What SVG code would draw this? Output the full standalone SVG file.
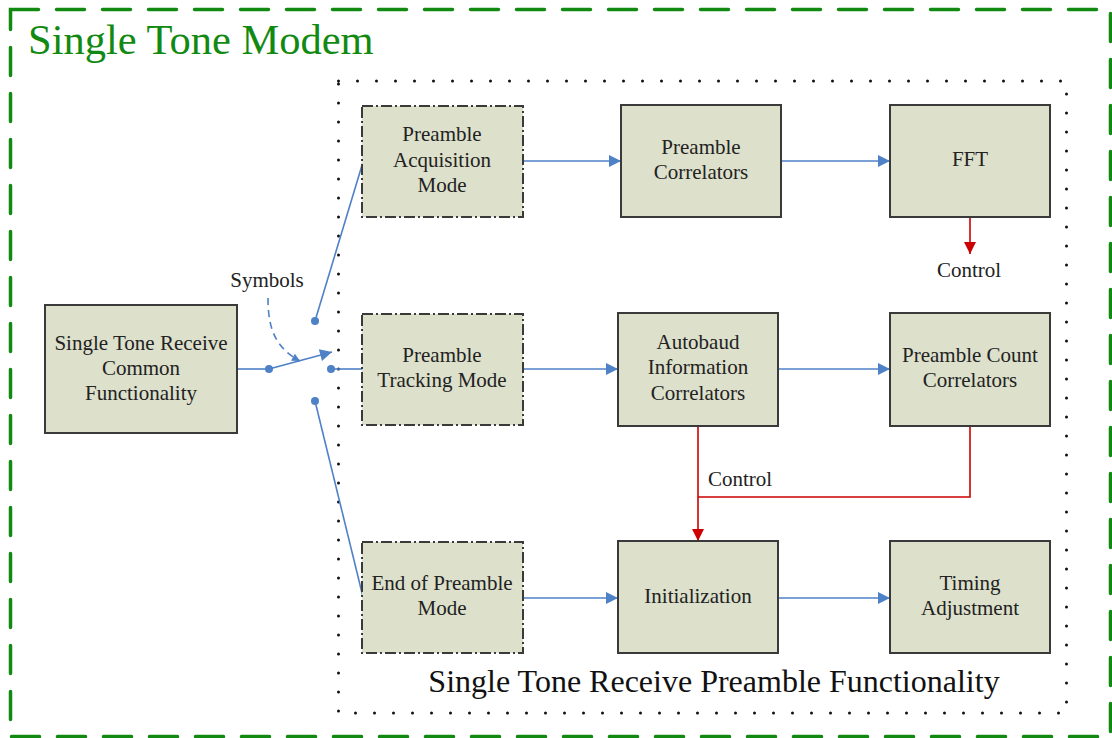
<svg xmlns="http://www.w3.org/2000/svg" width="1112" height="738" viewBox="0 0 1112 738">
  <style>
    .box { fill: #dde0cb; stroke: #3a3a3a; stroke-width: 2; }
    .mode { fill: #dde0cb; stroke: #3a3a3a; stroke-width: 2; stroke-dasharray: 11 3 2 3; }
    .lbl { font-family: "Liberation Serif", "Times New Roman", serif; font-size: 21px; fill: #222; text-anchor: middle; }
    .note { font-family: "Liberation Serif", "Times New Roman", serif; font-size: 21px; fill: #222; }
    .flow { stroke: #4f81c7; stroke-width: 1.6; fill: none; }
    .ctl { stroke: #cc0000; stroke-width: 1.6; fill: none; }
    .pin { fill: #4f81c7; }
  </style>
  <defs>
    <marker id="blueHead" viewBox="0 0 10 10" refX="10" refY="5" markerWidth="10" markerHeight="8" markerUnits="userSpaceOnUse" orient="auto">
      <path d="M0,0 L10,5 L0,10 z" fill="#4f81c7"/>
    </marker>
    <marker id="blueHeadL" viewBox="0 0 10 10" refX="10" refY="5" markerWidth="16" markerHeight="12" markerUnits="userSpaceOnUse" orient="auto">
      <path d="M0,0 L10,5 L0,10 z" fill="#4f81c7"/>
    </marker>
    <marker id="redHead" viewBox="0 0 10 10" refX="10" refY="5" markerWidth="14" markerHeight="12" markerUnits="userSpaceOnUse" orient="auto">
      <path d="M0,0 L10,5 L0,10 z" fill="#cc0000"/>
    </marker>
  </defs>

  <!-- outer modem frame -->
  <g id="modem-frame">
    <rect x="10.5" y="9.5" width="1100" height="727" fill="none" stroke="#128a12" stroke-width="3.5" stroke-dasharray="28 18" stroke-linecap="round"/>
    <text x="28" y="54" font-family="Liberation Serif, Times New Roman, serif" font-size="42.5" fill="#128a12">Single Tone Modem</text>
  </g>

  <!-- preamble functionality frame -->
  <g id="preamble-frame">
    <rect x="338.5" y="81" width="728" height="632" fill="none" stroke="#111" stroke-width="3" stroke-dasharray="0 19" stroke-linecap="round"/>
    <text x="714" y="692" font-family="Liberation Serif, Times New Roman, serif" font-size="32" fill="#111" text-anchor="middle">Single Tone Receive Preamble Functionality</text>
  </g>

  <!-- connectors -->
  <g id="connectors">
    <!-- switch -->
    <line class="flow" x1="237" y1="369" x2="269" y2="369"/>
    <line class="flow" x1="269" y1="369" x2="332" y2="352" marker-end="url(#blueHeadL)"/>
    <circle class="pin" cx="269" cy="369" r="4"/>
    <circle class="pin" cx="331" cy="369" r="4"/>
    <line class="flow" x1="331" y1="369" x2="363" y2="369"/>
    <circle class="pin" cx="315" cy="321" r="4"/>
    <line class="flow" x1="315" y1="321" x2="363" y2="162"/>
    <circle class="pin" cx="315" cy="401" r="4"/>
    <line class="flow" x1="315" y1="401" x2="363" y2="597"/>
    <path class="flow" d="M268,298 C268,330 276,348 300,361" stroke-dasharray="7 5" marker-end="url(#blueHead)"/>
    <text class="note" x="267" y="287" text-anchor="middle">Symbols</text>

    <!-- data flow -->
    <line class="flow" x1="523" y1="161" x2="621" y2="161" marker-end="url(#blueHeadL)"/>
    <line class="flow" x1="781" y1="161" x2="890" y2="161" marker-end="url(#blueHeadL)"/>
    <line class="flow" x1="523" y1="369" x2="618" y2="369" marker-end="url(#blueHeadL)"/>
    <line class="flow" x1="778" y1="369" x2="890" y2="369" marker-end="url(#blueHeadL)"/>
    <line class="flow" x1="523" y1="598" x2="618" y2="598" marker-end="url(#blueHeadL)"/>
    <line class="flow" x1="778" y1="598" x2="890" y2="598" marker-end="url(#blueHeadL)"/>

    <!-- control paths -->
    <line class="ctl" x1="970" y1="217" x2="970" y2="254" marker-end="url(#redHead)"/>
    <text class="note" x="969" y="277" text-anchor="middle">Control</text>
    <line class="ctl" x1="698" y1="426" x2="698" y2="541" marker-end="url(#redHead)"/>
    <polyline class="ctl" points="970,426 970,497 698,497"/>
    <text class="note" x="708" y="486">Control</text>
  </g>

  <g id="common-functionality">
    <rect class="box" x="45" y="305" width="192" height="128"/>
    <text class="lbl" x="141" y="350">Single Tone Receive</text>
    <text class="lbl" x="141" y="375">Common</text>
    <text class="lbl" x="141" y="400">Functionality</text>
  </g>

  <g id="acquisition-mode">
    <rect class="mode" x="362" y="106" width="161" height="111"/>
    <text class="lbl" x="442" y="141">Preamble</text>
    <text class="lbl" x="442" y="167">Acquisition</text>
    <text class="lbl" x="442" y="192">Mode</text>
  </g>

  <g id="tracking-mode">
    <rect class="mode" x="362" y="314" width="161" height="111"/>
    <text class="lbl" x="442" y="362">Preamble</text>
    <text class="lbl" x="442" y="387">Tracking Mode</text>
  </g>

  <g id="end-mode">
    <rect class="mode" x="362" y="542" width="161" height="111"/>
    <text class="lbl" x="442" y="590">End of Preamble</text>
    <text class="lbl" x="442" y="615">Mode</text>
  </g>

  <g id="preamble-correlators">
    <rect class="box" x="621" y="105" width="160" height="112"/>
    <text class="lbl" x="701" y="154">Preamble</text>
    <text class="lbl" x="701" y="179">Correlators</text>
  </g>

  <g id="fft">
    <rect class="box" x="890" y="105" width="160" height="112"/>
    <text class="lbl" x="970" y="166">FFT</text>
  </g>

  <g id="autobaud">
    <rect class="box" x="618" y="313" width="160" height="113"/>
    <text class="lbl" x="698" y="349">Autobaud</text>
    <text class="lbl" x="698" y="374">Information</text>
    <text class="lbl" x="698" y="400">Correlators</text>
  </g>

  <g id="count-correlators">
    <rect class="box" x="890" y="313" width="160" height="113"/>
    <text class="lbl" x="970" y="362">Preamble Count</text>
    <text class="lbl" x="970" y="387">Correlators</text>
  </g>

  <g id="initialization">
    <rect class="box" x="618" y="541" width="160" height="112"/>
    <text class="lbl" x="698" y="603">Initialization</text>
  </g>

  <g id="timing-adjustment">
    <rect class="box" x="890" y="541" width="160" height="112"/>
    <text class="lbl" x="970" y="590">Timing</text>
    <text class="lbl" x="970" y="615">Adjustment</text>
  </g>
</svg>
